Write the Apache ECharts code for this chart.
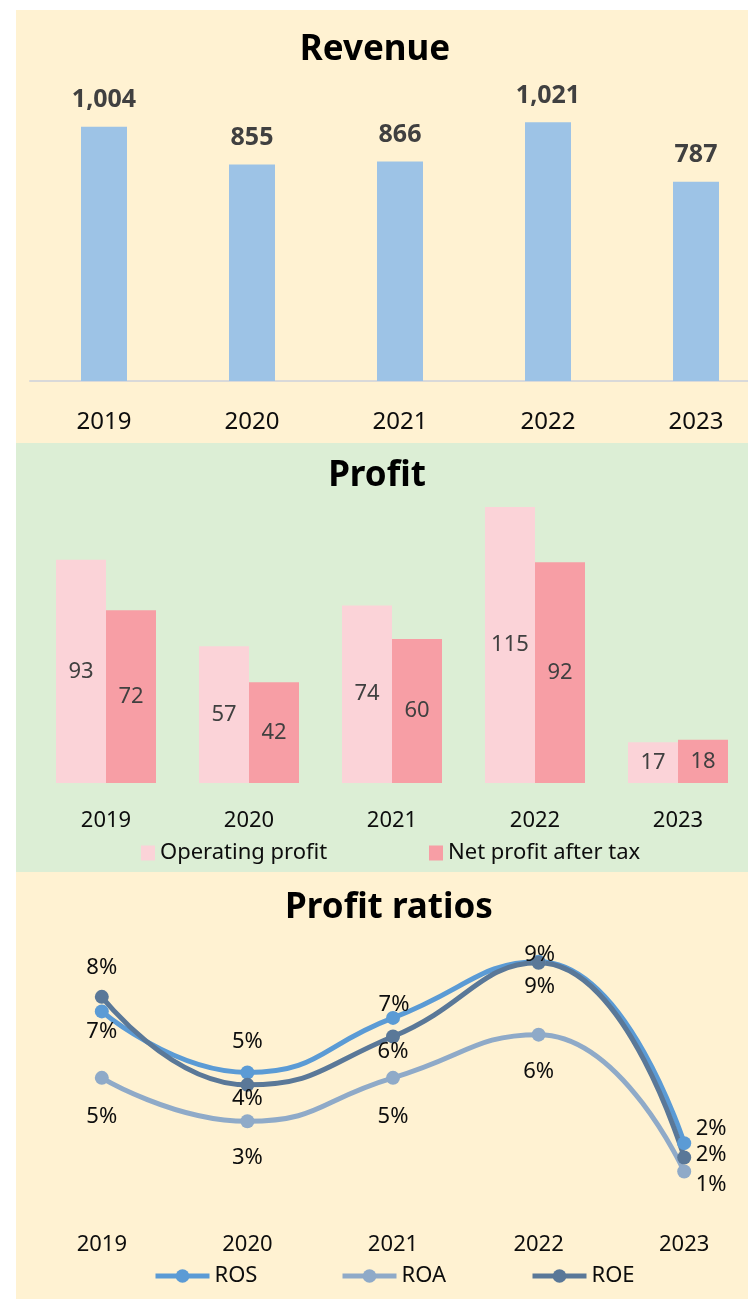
<!DOCTYPE html>
<html>
<head>
<meta charset="utf-8">
<script src="https://cdn.jsdelivr.net/npm/echarts@6/dist/echarts.min.js"></script>
<style>
  html, body { margin: 0; padding: 0; background: #ffffff; }
  #chart { width: 748px; height: 1299px; }
</style>
</head>
<body>
<div id="chart"></div>
<script>
// ---- Data ----
const years = ['2019', '2020', '2021', '2022', '2023'];
const revenue = [1004, 855, 866, 1021, 787];
const operatingProfit = [93, 57, 74, 115, 17];
const netProfit = [72, 42, 60, 92, 18];
const ros = [7.17, 4.91, 6.93, 9.01, 2.29];
const roa = [4.71, 3.10, 4.71, 6.31, 1.24];
const roe = [7.71, 4.45, 6.24, 8.97, 1.76];

// ---- Styling config (label placement per point) ----
const FONT = '"Noto Sans", "DejaVu Sans", sans-serif';
const rosLabelOffsets = [[0, 20], [0, -31], [1, -13], [1, -7], [27, -14]];
const roaLabelOffsets = [[0, 39], [0, 36], [0, 39], [0, 37], [27, 13]];
const roeLabelOffsets = [[0, -29], [0, 14], [0, 15], [1, 24], [27, -3]];

const COLORS = {
  panelYellow: '#FFF2D2',
  panelGreen: '#DCEED5',
  revenueBar: '#9DC3E6',
  opProfit: '#FBD3D8',
  netProfit: '#F79EA5',
  ros: '#5B9BD5',
  roa: '#8FAAC8',
  roe: '#5A7898'
};

function ratioSeries(name, values, offsets, color) {
  return {
    name: name,
    type: 'line',
    xAxisIndex: 2,
    yAxisIndex: 2,
    smooth: 0.5,
    symbol: 'circle',
    symbolSize: 14,
    lineStyle: { width: 5, color: color },
    itemStyle: { color: color },
    data: values,
    label: {
      show: true,
      position: 'inside',
      fontFamily: FONT,
      fontSize: 22,
      color: '#0d0d0d',
      formatter: p => Math.round(p.value) + '%'
    },
    labelLayout: p => ({ dx: offsets[p.dataIndex][0], dy: offsets[p.dataIndex][1] }),
    z: 3
  };
}

const chart = echarts.init(document.getElementById('chart'), null, { renderer: 'canvas' });

const catAxisLabel = (size, margin) => ({
  fontFamily: FONT,
  fontSize: size,
  color: '#0d0d0d',
  margin: margin
});

const lineLegend = (name, left) => ({
  data: [name], left: left, top: 1265, padding: 0, itemWidth: 54, itemHeight: 17,
  lineStyle: { width: 5 },
  textStyle: { fontFamily: FONT, fontSize: 22, color: '#0d0d0d' }
});

const option = {
  animation: false,
  backgroundColor: '#ffffff',
  textStyle: { fontFamily: FONT },
  graphic: [
    { type: 'rect', z: -10, shape: { x: 16, y: 10, width: 732, height: 433 }, style: { fill: COLORS.panelYellow } },
    { type: 'rect', z: -10, shape: { x: 16, y: 443, width: 732, height: 429 }, style: { fill: COLORS.panelGreen } },
    { type: 'rect', z: -10, shape: { x: 16, y: 872, width: 732, height: 427 }, style: { fill: COLORS.panelYellow } }
  ],
  title: [
    { text: 'Revenue', left: 375, top: 33, textAlign: 'center', padding: 0,
      textStyle: { fontFamily: FONT, fontSize: 35, fontWeight: 'bold', color: '#000' } },
    { text: 'Profit', left: 377, top: 459, textAlign: 'center', padding: 0,
      textStyle: { fontFamily: FONT, fontSize: 35, fontWeight: 'bold', color: '#000' } },
    { text: 'Profit ratios', left: 389, top: 891, textAlign: 'center', padding: 0,
      textStyle: { fontFamily: FONT, fontSize: 35, fontWeight: 'bold', color: '#000' } }
  ],
  legend: [
    { data: ['Operating profit'], left: 141, top: 842, padding: 0, itemWidth: 14, itemHeight: 15,
      icon: 'rect', textStyle: { fontFamily: FONT, fontSize: 22, color: '#0d0d0d' } },
    { data: ['Net profit after tax'], left: 429, top: 842, padding: 0, itemWidth: 14, itemHeight: 15,
      icon: 'rect', textStyle: { fontFamily: FONT, fontSize: 22, color: '#0d0d0d' } },
    lineLegend('ROS', 153),
    lineLegend('ROA', 340),
    lineLegend('ROE', 530)
  ],
  grid: [
    { left: 30, top: 77, width: 740, height: 304, outerBoundsMode: 'none', containLabel: false },
    { left: 34.5, top: 447, width: 715, height: 336, outerBoundsMode: 'none', containLabel: false },
    { left: 29, top: 935, width: 728, height: 270, outerBoundsMode: 'none', containLabel: false }
  ],
  xAxis: [
    { type: 'category', gridIndex: 0, data: years,
      axisLine: { show: true, lineStyle: { color: '#D9D9D9', width: 2 } },
      axisTick: { show: false }, axisLabel: catAxisLabel(24, 29) },
    { type: 'category', gridIndex: 1, data: years,
      axisLine: { show: false }, axisTick: { show: false }, axisLabel: catAxisLabel(22, 27) },
    { type: 'category', gridIndex: 2, data: years, boundaryGap: true,
      axisLine: { show: false }, axisTick: { show: false }, axisLabel: catAxisLabel(22, 29) }
  ],
  yAxis: [
    { type: 'value', gridIndex: 0, min: 0, max: 1200, show: false, splitLine: { show: false } },
    { type: 'value', gridIndex: 1, min: 0, max: 140, show: false, splitLine: { show: false } },
    { type: 'value', gridIndex: 2, min: 0, max: 10, show: false, splitLine: { show: false } }
  ],
  series: [
    {
      name: 'Revenue', type: 'bar', xAxisIndex: 0, yAxisIndex: 0,
      data: revenue, barWidth: 46,
      itemStyle: { color: COLORS.revenueBar },
      label: {
        show: true, position: 'top', distance: 14,
        fontFamily: FONT, fontSize: 25, fontWeight: 'bold', color: '#404040',
        formatter: p => p.value.toLocaleString('en-US')
      }
    },
    {
      name: 'Operating profit', type: 'bar', xAxisIndex: 1, yAxisIndex: 1,
      data: operatingProfit, barWidth: 50, barGap: '0%',
      itemStyle: { color: COLORS.opProfit },
      label: { show: true, position: 'inside', fontFamily: FONT, fontSize: 22, color: '#404040' }
    },
    {
      name: 'Net profit after tax', type: 'bar', xAxisIndex: 1, yAxisIndex: 1,
      data: netProfit, barWidth: 50, barGap: '0%',
      itemStyle: { color: COLORS.netProfit },
      label: { show: true, position: 'inside', fontFamily: FONT, fontSize: 22, color: '#404040' }
    },
    ratioSeries('ROS', ros, rosLabelOffsets, COLORS.ros),
    ratioSeries('ROA', roa, roaLabelOffsets, COLORS.roa),
    ratioSeries('ROE', roe, roeLabelOffsets, COLORS.roe)
  ]
};

chart.setOption(option);
</script>
</body>
</html>
